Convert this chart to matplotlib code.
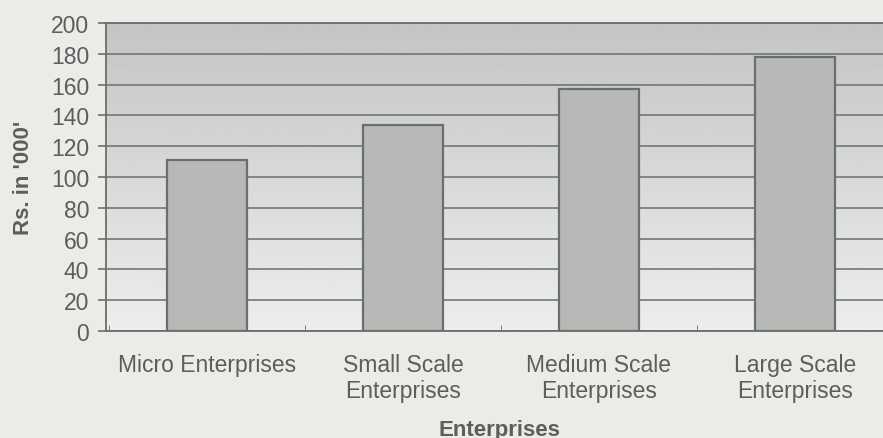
import matplotlib.pyplot as plt
import numpy as np

categories = ['Micro Enterprises', 'Small Scale\nEnterprises',
              'Medium Scale\nEnterprises', 'Large Scale\nEnterprises']
values = [111, 134, 157, 178]
yticks = [0, 20, 40, 60, 80, 100, 120, 140, 160, 180, 200]

plt.rcParams['font.family'] = ['Liberation Sans', 'DejaVu Sans']
txt = '#5a5f5d'
line = '#66706c'

fig = plt.figure(figsize=(8.83, 4.39), dpi=100, facecolor='#ebebe8')
ax = fig.add_axes([106 / 883, 107 / 439, 787 / 883, 308 / 439])
ax.set_facecolor('#ebebe8')

x = np.arange(len(categories))
x0, x1 = -0.515, 3.5

# gradient background: lighter near the bottom, darker at the top
grad = np.linspace(0.93, 0.77, 256).reshape(-1, 1)
ax.imshow(grad, extent=[x0, x1, 0, 200], aspect='auto', cmap='gray',
          vmin=0, vmax=1, zorder=0, origin='lower')
ax.set_xlim(x0, x1)
ax.set_ylim(0, 200)

ax.set_yticks(yticks)
ax.yaxis.grid(True, color=line, linewidth=1.1, zorder=1)
ax.set_axisbelow(True)
ax.bar(x, values, width=0.41, color='#b8b8b6', edgecolor=line,
       linewidth=1.6, zorder=3)

ax.set_xticks(x)
ax.set_xticklabels(categories, fontsize=16.5, color=txt, linespacing=1.15)
ax.set_xticks(np.arange(-0.5, 4, 1), minor=True)
ax.tick_params(axis='x', which='major', length=0, pad=16)
ax.tick_params(axis='x', which='minor', length=4, color=line, direction='in')
ax.tick_params(axis='y', labelsize=16.5, labelcolor=txt, color=line,
               length=6, width=1.2, pad=6)

for s in ['left', 'bottom', 'top']:
    ax.spines[s].set_color(line)
    ax.spines[s].set_linewidth(1.3)
ax.spines['right'].set_visible(False)

ax.set_xlabel('Enterprises', fontsize=16, color=txt, fontweight='bold',
              labelpad=12)
ax.set_ylabel("Rs. in '000'", fontsize=16, color=txt, fontweight='bold',
              labelpad=12)

fig.savefig('out.png', dpi=100, facecolor=fig.get_facecolor())
